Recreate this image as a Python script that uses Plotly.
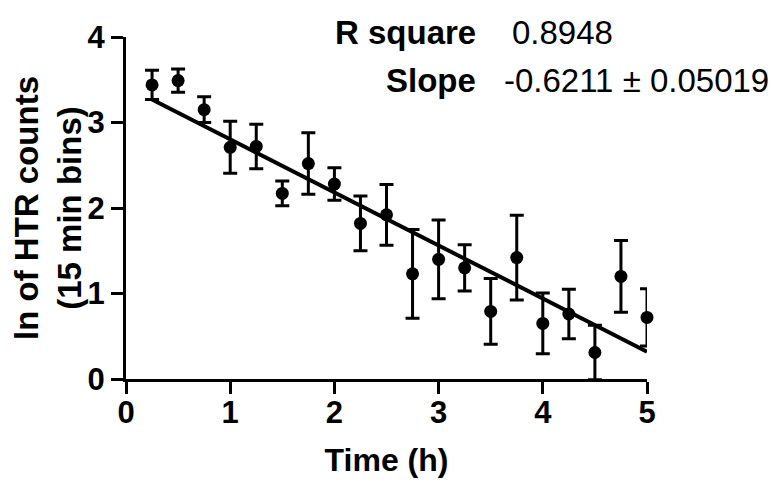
import plotly.graph_objects as go

time_h = [0.25, 0.5, 0.75, 1.0, 1.25, 1.5, 1.75, 2.0, 2.25, 2.5,
          2.75, 3.0, 3.25, 3.5, 3.75, 4.0, 4.25, 4.5, 4.75, 5.0]
ln_counts = [3.44, 3.49, 3.15, 2.71, 2.72, 2.17, 2.52, 2.28, 1.82, 1.92,
             1.23, 1.40, 1.30, 0.79, 1.42, 0.65, 0.76, 0.31, 1.20, 0.72]
sem = [0.17, 0.135, 0.15, 0.305, 0.26, 0.145, 0.36, 0.19, 0.32, 0.355,
       0.52, 0.46, 0.27, 0.385, 0.495, 0.355, 0.29, 0.32, 0.42, 0.335]

fit_slope = -0.6211
fit_intercept = 3.425
fit_x = [0.25, 5.0]
fit_y = [fit_intercept + fit_slope * x for x in fit_x]

x_ticks = [0, 1, 2, 3, 4, 5]
y_ticks = [0, 1, 2, 3, 4]

FONT = "Liberation Sans, Arial, sans-serif"

fig = go.Figure()
fig.add_trace(go.Scatter(
    x=fit_x, y=fit_y, mode="lines",
    line=dict(color="black", width=4), cliponaxis=False, showlegend=False))
fig.add_trace(go.Scatter(
    x=time_h, y=ln_counts, mode="markers",
    marker=dict(color="black", size=13),
    error_y=dict(type="data", array=sem, visible=True, color="black",
                 thickness=3, width=7),
    cliponaxis=False, showlegend=False))

fig.update_layout(
    width=771, height=477,
    margin=dict(l=118, r=132, t=26, b=105),
    paper_bgcolor="white", plot_bgcolor="white",
    font=dict(family=FONT, color="black"),
    xaxis=dict(range=[0, 5], tickvals=x_ticks, showgrid=False, zeroline=False,
               showline=True, linecolor="black", linewidth=3,
               ticks="outside", ticklen=12, tickwidth=3, tickcolor="black",
               ticklabelstandoff=-8,
               tickfont=dict(size=31, weight="bold", family=FONT),
               title=dict(text="Time (h)", font=dict(size=32, weight="bold", family=FONT),
                          standoff=20)),
    yaxis=dict(range=[0, 4], tickvals=y_ticks, showgrid=False, zeroline=False,
               showline=True, linecolor="black", linewidth=3,
               ticks="outside", ticklen=12, tickwidth=3, tickcolor="black",
               tickfont=dict(size=31, weight="bold", family=FONT),
               title=dict(text="ln of HTR counts<br>(15 min bins)",
                          font=dict(size=33, weight="bold", family=FONT),
                          standoff=0)),
)

fig.add_annotation(xref="paper", yref="paper", x=0.675, y=1.012,
                   text="R square", showarrow=False, xanchor="right", yanchor="middle",
                   font=dict(size=33, weight="bold", family=FONT))
fig.add_annotation(xref="paper", yref="paper", x=0.737, y=1.012,
                   text="0.8948", showarrow=False, xanchor="left", yanchor="middle",
                   font=dict(size=33, family=FONT))
fig.add_annotation(xref="paper", yref="paper", x=0.675, y=0.873,
                   text="Slope", showarrow=False, xanchor="right", yanchor="middle",
                   font=dict(size=33, weight="bold", family=FONT))
fig.add_annotation(xref="paper", yref="paper", x=0.722, y=0.873,
                   text="-0.6211 ± 0.05019", showarrow=False, xanchor="left", yanchor="middle",
                   font=dict(size=33, family=FONT))

fig.write_html("out.html")
